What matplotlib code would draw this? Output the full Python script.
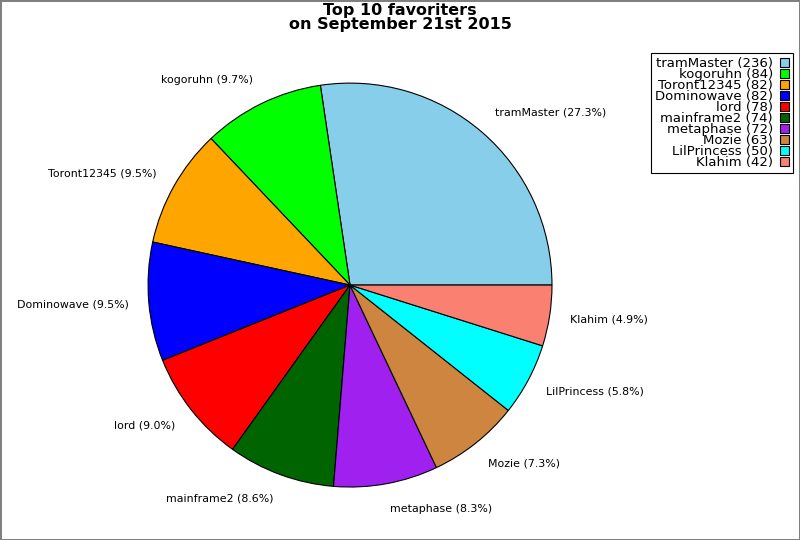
import matplotlib
matplotlib.use('Agg')
from matplotlib import pyplot as plt

users = ['tramMaster', 'kogoruhn', 'Toront12345', 'Dominowave', 'lord',
         'mainframe2', 'metaphase', 'Mozie', 'LilPrincess', 'Klahim']
counts = [236, 84, 82, 82, 78, 74, 72, 63, 50, 42]
colors = ['skyblue', 'lime', 'orange', 'blue', 'red',
          'darkgreen', '#a020f0', 'peru', 'cyan', 'salmon']

total = sum(counts)
labels = ['{} ({:.1f}%)'.format(u, 100.0 * c / total) for u, c in zip(users, counts)]
legend_labels = ['{} ({})'.format(u, c) for u, c in zip(users, counts)]

fig = plt.figure(figsize=(8, 5.4), dpi=100, edgecolor='gray', linewidth=1)
# pie centre ~(350, 285) px, radius ~202 px
ax = fig.add_axes([0.1219, 0.0046, 0.63125, 0.935])
wedges, texts = ax.pie(counts, labels=labels, colors=colors, startangle=0,
                       counterclock=True,
                       wedgeprops={'edgecolor': 'black', 'linewidth': 0.8},
                       textprops={'fontsize': 7.9})
# labels sit a touch further out vertically in the reference
for t in texts:
    x, y = t.get_position()
    t.set_position((x, y * 1.025))
ax.set_xlim(-1.25, 1.25)
ax.set_ylim(-1.25, 1.25)
ax.set_aspect('equal')

fig.suptitle('Top 10 favoriters\non September 21st 2015', fontsize=11.5,
             fontweight='bold', y=0.995, linespacing=0.95)

leg = fig.legend(wedges, legend_labels, loc='upper right',
                 bbox_to_anchor=(0.991, 0.902), markerfirst=False,
                 fontsize=9.5, fancybox=False, edgecolor='black',
                 handlelength=0.7, handleheight=0.7, handletextpad=0.5,
                 labelspacing=-0.15, borderpad=0.3, borderaxespad=0,
                 framealpha=1)
for t in leg.get_texts():
    t.set_ha('right')
leg.get_frame().set_linewidth(0.8)

fig.savefig('out.png', dpi=100, edgecolor=fig.get_edgecolor())
